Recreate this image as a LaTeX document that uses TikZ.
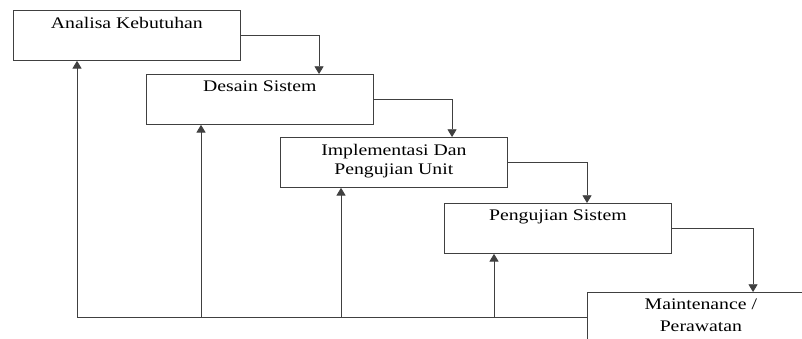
\documentclass[tikz,border=0pt]{standalone}
\usepackage{fontspec}
\setmainfont{Liberation Serif}[FakeStretch=1.22]
\usetikzlibrary{arrows.meta}

\tikzset{
  stage/.style={draw=black!75, line width=0.6pt, anchor=north west,
    minimum width=5.67cm, minimum height=1.25cm, inner sep=0pt},
  stagetext/.style={anchor=north, inner sep=0pt, yshift=-0.17cm, align=center,
    font=\fontsize{11.5}{13.5}\selectfont},
  flow/.style={draw=black!75, line width=0.6pt, -{Triangle[length=5.5pt,width=6.5pt]}},
  link/.style={draw=black!75, line width=0.6pt}
}

\begin{document}
\begin{tikzpicture}[x=0.025cm, y=-0.025cm]
  \clip (0,0) rectangle (802,338);

  % stages of the waterfall
  \node[stage] (analisa) at (13,10) {};
  \node[stage] (desain) at (146,74) {};
  \node[stage] (implementasi) at (280,137) {};
  \node[stage] (pengujian) at (444,203) {};
  \node[stage] (maint) at (587,292) {};

  \node[stagetext] (tanalisa) at (analisa.north) {Analisa Kebutuhan};
  \node[stagetext] (tdesain) at (desain.north) {Desain Sistem};
  \node[stagetext] (timplementasi) at (implementasi.north) {Implementasi Dan\\Pengujian Unit};
  \node[stagetext] (tpengujian) at (pengujian.north) {Pengujian Sistem};
  \node[stagetext] (tmaint) at (maint.north) {Maintenance /\\[2pt]Perawatan};

  % downward flow
  \draw[flow] (analisa.east) -| ([xshift=4.325cm]desain.north west);
  \draw[flow] (desain.east) -| ([xshift=4.3cm]implementasi.north west);
  \draw[flow] (implementasi.east) -| ([xshift=3.575cm]pengujian.north west);
  \draw[flow] (pengujian.east) -| ([xshift=4.15cm]maint.north west);

  % feedback
  \draw[flow] (maint.west) -| ([xshift=1.6cm]analisa.south west);
  \foreach \stage / \dx in {desain/1.375, implementasi/1.525, pengujian/1.25}{
    \draw[flow] ([xshift=\dx cm]\stage.south west |- maint.west) -- ([xshift=\dx cm]\stage.south west);
  }
\end{tikzpicture}
\end{document}
